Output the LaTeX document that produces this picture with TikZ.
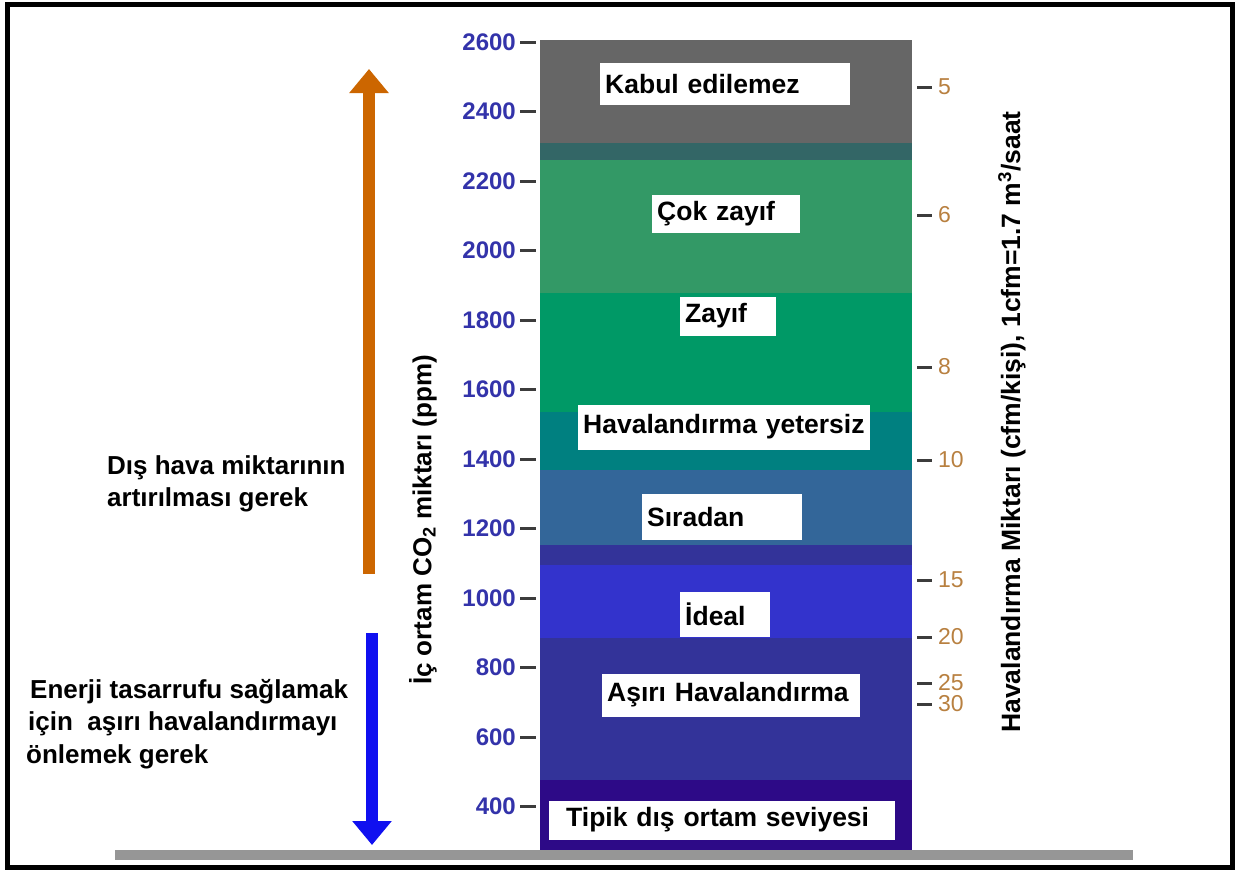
\documentclass[tikz,border=0pt]{standalone}
\usepackage{fontspec}
\setmainfont{Liberation Sans}
\usetikzlibrary{arrows.meta}

\definecolor{bandgray}{RGB}{102,102,102}
\definecolor{bandslate}{RGB}{51,102,102}
\definecolor{bandsage}{RGB}{51,153,102}
\definecolor{bandgreen}{RGB}{0,153,102}
\definecolor{bandteal}{RGB}{0,128,128}
\definecolor{bandsteel}{RGB}{51,102,153}
\definecolor{bandnavy}{RGB}{51,51,153}
\definecolor{bandblue}{RGB}{51,51,204}
\definecolor{bandindigo}{RGB}{45,10,135}
\definecolor{ppmblue}{RGB}{51,51,170}
\definecolor{cfmbrown}{RGB}{184,128,64}
\definecolor{tickgray}{RGB}{60,60,60}
\definecolor{uporange}{RGB}{204,102,0}
\definecolor{downblue}{RGB}{16,16,240}
\definecolor{groundgray}{RGB}{150,150,150}

\tikzstyle{every node}=[inner sep=0pt]
\tikzstyle{lvl}=[fill=white, anchor=west, align=left, inner xsep=5pt,
  font=\fontsize{26.5}{30}\selectfont\bfseries\hyphenpenalty10000\relax]
\tikzstyle{ppm}=[anchor=east, text=ppmblue, font=\fontsize{24}{24}\selectfont\bfseries]
\tikzstyle{cfm}=[anchor=west, text=cfmbrown, font=\fontsize{23}{23}\selectfont]
\tikzstyle{tick}=[draw=tickgray, line width=3pt]
\tikzstyle{note}=[anchor=west, align=left, font=\fontsize{26}{32.5}\selectfont\bfseries]
\tikzstyle{axistitle}=[rotate=90, font=\fontsize{26}{26}\selectfont\bfseries]
\tikzstyle{bigarrow}=[line width=12pt, -{Triangle[width=38pt,length=24pt]}]

\begin{document}
\begin{tikzpicture}[x=1pt, y=-1pt]
    \useasboundingbox (0,0) rectangle (1254,870);

    \foreach \ya/\yb/\c in {40/143/bandgray, 143/160/bandslate, 160/293/bandsage,
      293/412/bandgreen, 412/470/bandteal, 470/545/bandsteel, 545/565/bandnavy,
      565/638/bandblue, 638/780/bandnavy, 780/850/bandindigo}
    {
      \fill[\c] (540,\ya) rectangle (912,\yb);
    }

    \foreach \v in {400, 600, ..., 2600}
    {
      \draw[tick] (520,{42+(2600-\v)*0.3475}) -- (536,{42+(2600-\v)*0.3475});
      \path (516,{42+(2600-\v)*0.3475}) node[ppm] (p\v) {\v};
    }

    \foreach \n/\y in {5/87, 6/215, 8/367, 10/460, 15/580, 20/637, 25/683, 30/704}
    {
      \draw[tick] (917,\y) -- (932,\y);
      \path (938,\y) node[cfm] (f\n) {\n};
    }

    \node[lvl, minimum height=42pt, text width=240pt] (kabul) at (600,84) {Kabul edilemez};
    \node[lvl, minimum height=38pt, text width=138pt] (cokzayif) at (652,214) {Çok zayıf};
    \node[lvl, minimum height=39pt, text width=86pt] (zayif) at (680,316) {Zayıf};
    \node[lvl, minimum height=45pt, text width=282pt] (yetersiz) at (578,427) {Havalandırma yetersiz};
    \node[lvl, minimum height=46pt, text width=150pt] (siradan) at (642,517) {Sıradan};
    \node[lvl, minimum height=45pt, text width=80pt] (ideal) at (680,614) {İdeal};
    \node[lvl, minimum height=43pt, text width=248pt] (asiri) at (602,695) {Aşırı Havalandırma};
    \node[lvl, minimum height=39pt, text width=336pt] (tipik) at (549,820) {\hspace{12pt}Tipik dış ortam seviyesi};

    \node[axistitle] (co2) at (423,520) {İç ortam CO\textsubscript{2} miktarı (ppm)};
    \node[axistitle, font=\fontsize{26.5}{26.5}\selectfont\bfseries] (vent) at (1012,422) {Havalandırma Miktarı (cfm/kişi), 1cfm=1.7 m\textsuperscript{3}/saat};

    \node[note] (artir) at (107,484) {Dış hava miktarının\\artırılması gerek};
    \node[note] (enerji) at (26,724) {\hspace{4pt}Enerji tasarrufu sağlamak\\\hspace{2pt}için~ aşırı havalandırmayı\\önlemek gerek};

    \coordinate (upstart) at (369,574);
    \coordinate (uptip) at (369,69);
    \coordinate (downstart) at (372,633);
    \coordinate (downtip) at (372,845);
    \draw[bigarrow, uporange] (upstart) -- (uptip);
    \draw[bigarrow, downblue] (downstart) -- (downtip);

    \fill[groundgray] (115,850) rectangle (1133,860);
    \draw[line width=5pt] (7.5,4.5) rectangle (1232.5,867.5);
  \end{tikzpicture}
\end{document}
